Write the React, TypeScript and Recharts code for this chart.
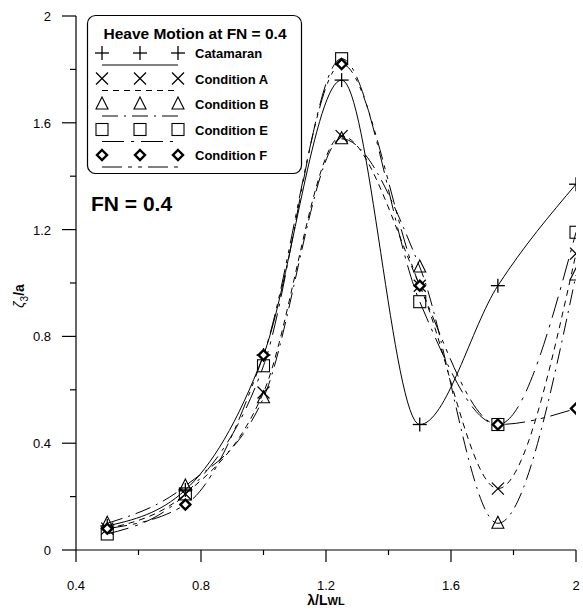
import React from 'react';
import { LineChart, Line, XAxis, YAxis, Legend } from 'recharts';

// λ/Lwl stations
const waveRatio = [0.5, 0.75, 1.0, 1.25, 1.5, 1.75, 2.0];

const catamaran = [0.09, 0.225, 0.73, 1.76, 0.47, 0.99, 1.37];
const conditionA = [0.08, 0.21, 0.59, 1.55, 0.99, 0.23, 1.11];
const conditionB = [0.1, 0.24, 0.57, 1.54, 1.06, 0.1, 1.03];
const conditionE = [0.06, 0.21, 0.69, 1.84, 0.93, 0.47, 1.19];
const conditionF = [0.08, 0.17, 0.73, 1.82, 0.99, 0.47, 0.53];

const xTicks = [0.4, 0.6, 0.8, 1.0, 1.2, 1.4, 1.6, 1.8, 2.0];
const yTicks = [0, 0.2, 0.4, 0.6, 0.8, 1.0, 1.2, 1.4, 1.6, 1.8, 2.0];

const FONT = '"Liberation Sans", Arial, sans-serif';

type Marker = 'plus' | 'cross' | 'triangle' | 'square' | 'diamond';

const series: { key: string; name: string; values: number[]; dash: string; marker: Marker }[] = [
  { key: 'cat', name: 'Catamaran', values: catamaran, dash: '', marker: 'plus' },
  { key: 'a', name: 'Condition A', values: conditionA, dash: '6 5', marker: 'cross' },
  { key: 'b', name: 'Condition B', values: conditionB, dash: '16 6 2 6', marker: 'triangle' },
  { key: 'e', name: 'Condition E', values: conditionE, dash: '22 7 3 7', marker: 'square' },
  { key: 'f', name: 'Condition F', values: conditionF, dash: '20 6 4 6 4 6', marker: 'diamond' },
];

const data = waveRatio.map((x, i) => {
  const row: any = { x };
  series.forEach(s => {
    row[s.key] = s.values[i];
  });
  return row;
});

const drawMarker = (type: Marker, cx: number, cy: number, key?: string) => {
  switch (type) {
    case 'plus':
      return (
        <g key={key}>
          <line x1={cx - 7} y1={cy} x2={cx + 7} y2={cy} stroke="#000" strokeWidth={1.3} />
          <line x1={cx} y1={cy - 7} x2={cx} y2={cy + 7} stroke="#000" strokeWidth={1.3} />
        </g>
      );
    case 'cross':
      return (
        <g key={key}>
          <line x1={cx - 6} y1={cy - 6} x2={cx + 6} y2={cy + 6} stroke="#000" strokeWidth={1.3} />
          <line x1={cx - 6} y1={cy + 6} x2={cx + 6} y2={cy - 6} stroke="#000" strokeWidth={1.3} />
        </g>
      );
    case 'triangle':
      return (
        <polygon key={key} points={`${cx},${cy - 7} ${cx + 6},${cy + 5} ${cx - 6},${cy + 5}`}
          fill="none" stroke="#000" strokeWidth={1.1} />
      );
    case 'square':
      return <rect key={key} x={cx - 6} y={cy - 6} width={12} height={12} fill="none" stroke="#000" strokeWidth={1.1} />;
    case 'diamond':
      return (
        <polygon key={key} points={`${cx},${cy - 5} ${cx + 5},${cy} ${cx},${cy + 5} ${cx - 5},${cy}`}
          fill="#fff" stroke="#000" strokeWidth={2.4} />
      );
  }
};

const isMajor = (v: number) => Math.abs(v / 0.4 - Math.round(v / 0.4)) < 1e-6;

const fmt = (v: number) => {
  const r = Math.round(v * 10) / 10;
  return Number.isInteger(r) ? String(r) : r.toFixed(1);
};

const XTick = ({ x, y, payload }: any) => {
  const major = isMajor(payload.value);
  return (
    <g>
      <line x1={x} y1={y} x2={x} y2={y + (major ? 12 : 5)} stroke="#000" strokeWidth={1.2} />
      {major && (
        <text x={x} y={y + 40} textAnchor="middle" fontSize={13} fontFamily={FONT} fill="#000">
          {fmt(payload.value)}
        </text>
      )}
    </g>
  );
};

const YTick = ({ x, y, payload }: any) => {
  const major = isMajor(payload.value);
  return (
    <g>
      <line x1={x} y1={y} x2={x - (major ? 14 : 6)} y2={y} stroke="#000" strokeWidth={1.2} />
      {major && (
        <text x={x - 25} y={y + 5} textAnchor="end" fontSize={13} fontFamily={FONT} fill="#000">
          {fmt(payload.value)}
        </text>
      )}
    </g>
  );
};

const renderLegend = () => (
  <svg width={230} height={210} style={{ display: 'block', overflow: 'visible' }}>
    <rect x={0.5} y={0.5} width={214} height={158} rx={8} fill="#fff" stroke="#000" strokeWidth={1.2} />
    <text x={108} y={24} textAnchor="middle" fontSize={15.5} fontWeight="bold" fontFamily={FONT} fill="#000">
      Heave Motion at FN = 0.4
    </text>
    {series.map((s, i) => {
      const cy = 38 + i * 25.5;
      return (
        <g key={s.key}>
          {[15, 53, 91].map((mx, j) => drawMarker(s.marker, mx, cy, `${s.key}-${j}`))}
          <line x1={15} y1={cy + 12} x2={91} y2={cy + 12} stroke="#000" strokeWidth={1}
            strokeDasharray={s.dash || undefined} />
          <text x={108} y={cy + 5} fontSize={13} fontWeight="bold" fontFamily={FONT} fill="#000">
            {s.name}
          </text>
        </g>
      );
    })}
    <text x={4} y={196} fontSize={21} fontWeight="bold" fontFamily={FONT} fill="#000">
      FN = 0.4
    </text>
  </svg>
);

const App: React.FC = () => {
  return (
    <div style={{ position: 'absolute', left: 0, top: 0, background: '#fff' }}>
      <LineChart width={583} height={610} data={data} margin={{ top: 16, right: 7, left: 0, bottom: 0 }}>
        <XAxis
          type="number"
          dataKey="x"
          domain={[0.4, 2]}
          ticks={xTicks}
          interval={0}
          height={60}
          tickSize={0}
          tickMargin={0}
          tickLine={false}
          tick={<XTick />}
          axisLine={{ stroke: '#000', strokeWidth: 1.2 }}
          allowDataOverflow
        />
        <YAxis
          type="number"
          domain={[0, 2]}
          ticks={yTicks}
          interval={0}
          width={76}
          tickSize={0}
          tickMargin={0}
          tickLine={false}
          tick={<YTick />}
          axisLine={{ stroke: '#000', strokeWidth: 1.2 }}
          allowDataOverflow
        />
        <Legend
          layout="vertical"
          align="center"
          verticalAlign="middle"
          content={renderLegend}
          wrapperStyle={{ position: 'absolute', left: 87, top: 15, width: 230, height: 210 }}
        />
        {series.map(s => (
          <Line
            key={s.key}
            type="monotone"
            dataKey={s.key}
            name={s.name}
            stroke="#000"
            strokeWidth={1}
            strokeDasharray={s.dash || undefined}
            isAnimationActive={false}
            dot={(p: any) => drawMarker(s.marker, p.cx, p.cy, `${s.key}-${p.index}`) as any}
            activeDot={false}
          />
        ))}
      </LineChart>
      <svg width={583} height={610} style={{ position: 'absolute', left: 0, top: 0, pointerEvents: 'none' }}>
        <text transform="translate(24,296) rotate(-90)" textAnchor="middle" fontSize={14} fontFamily={FONT} fill="#000">
          <tspan fontStyle="italic">ζ</tspan>
          <tspan fontSize={10} dy={4}>3</tspan>
          <tspan dy={-4} fontWeight="bold">/a</tspan>
        </text>
        <text x={326} y={605} textAnchor="middle" fontSize={14} fontWeight="bold" fontFamily={FONT} fill="#000">
          λ/L<tspan fontSize={11}>WL</tspan>
        </text>
      </svg>
    </div>
  );
};

export default App;
